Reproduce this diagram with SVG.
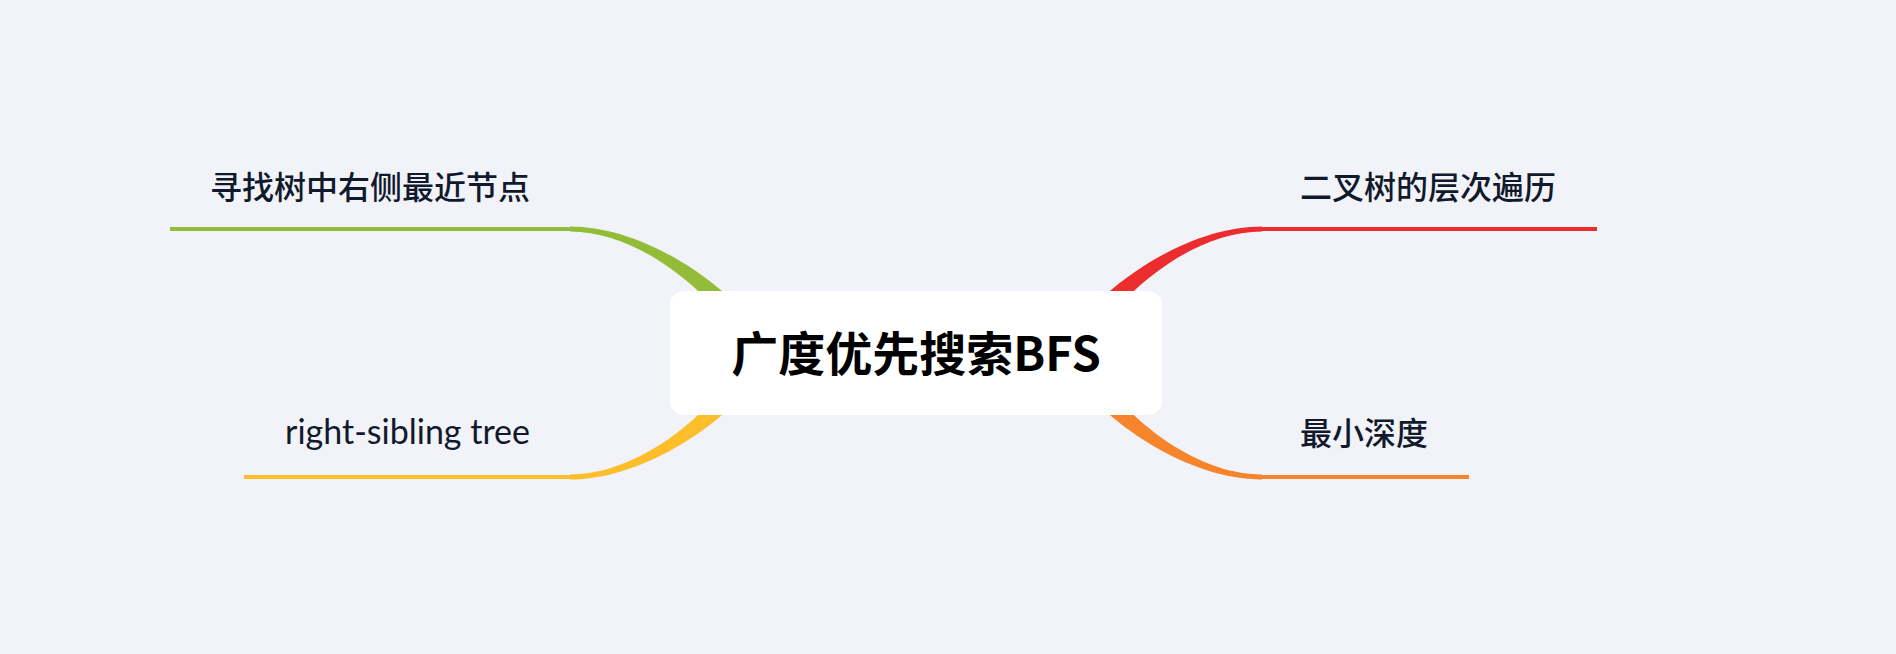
<svg xmlns="http://www.w3.org/2000/svg" xmlns:xlink="http://www.w3.org/1999/xlink" width="1896" height="654" viewBox="0 0 1896 654">
  <defs>
    <style>
      .sub { font-family: "Noto Sans CJK SC", "Noto Sans", sans-serif; font-size: 32px; font-weight: 500; fill: #111a2c; }
      .lat { font-family: Lato, "Noto Sans", sans-serif; font-size: 34px; fill: #111a2c; }
      .root { font-family: "Noto Sans CJK SC", "Noto Sans", sans-serif; font-size: 47px; font-weight: 700; fill: #000; }
      .ul { stroke-width: 4; fill: none; }
    </style>
    <path id="branch" d="M570,226.5 C642,226.5 729,281 772,347 L752,359 C713,290 638,231.5 570,231.5 Z"/>
  </defs>
  <rect width="1896" height="654" fill="#f2f3f8"/>
  <g id="connectors">
    <use xlink:href="#branch" fill="#93bc38"/>
    <use xlink:href="#branch" fill="#eb2d2d" transform="matrix(-1,0,0,1,1832,0)"/>
    <use xlink:href="#branch" fill="#fdbe2c" transform="matrix(1,0,0,-1,0,706)"/>
    <use xlink:href="#branch" fill="#f5842a" transform="matrix(-1,0,0,-1,1832,706)"/>
  </g>
  <g id="root">
    <rect x="670" y="291" width="492" height="124" rx="14" fill="#fff"/>
    <text class="root" x="916" y="371" text-anchor="middle">广度优先搜索BFS</text>
  </g>
  <g id="node-left-top">
    <line class="ul" x1="170" y1="229" x2="572" y2="229" stroke="#93bc38"/>
    <text class="sub" x="210" y="199">寻找树中右侧最近节点</text>
  </g>
  <g id="node-left-bottom">
    <line class="ul" x1="244" y1="477" x2="572" y2="477" stroke="#fdbe2c"/>
    <text class="lat" x="285" y="444">right-sibling tree</text>
  </g>
  <g id="node-right-top">
    <line class="ul" x1="1260" y1="229" x2="1597" y2="229" stroke="#eb2d2d"/>
    <text class="sub" x="1300" y="199">二叉树的层次遍历</text>
  </g>
  <g id="node-right-bottom">
    <line class="ul" x1="1260" y1="477" x2="1469" y2="477" stroke="#f5842a"/>
    <text class="sub" x="1300" y="445">最小深度</text>
  </g>
</svg>
